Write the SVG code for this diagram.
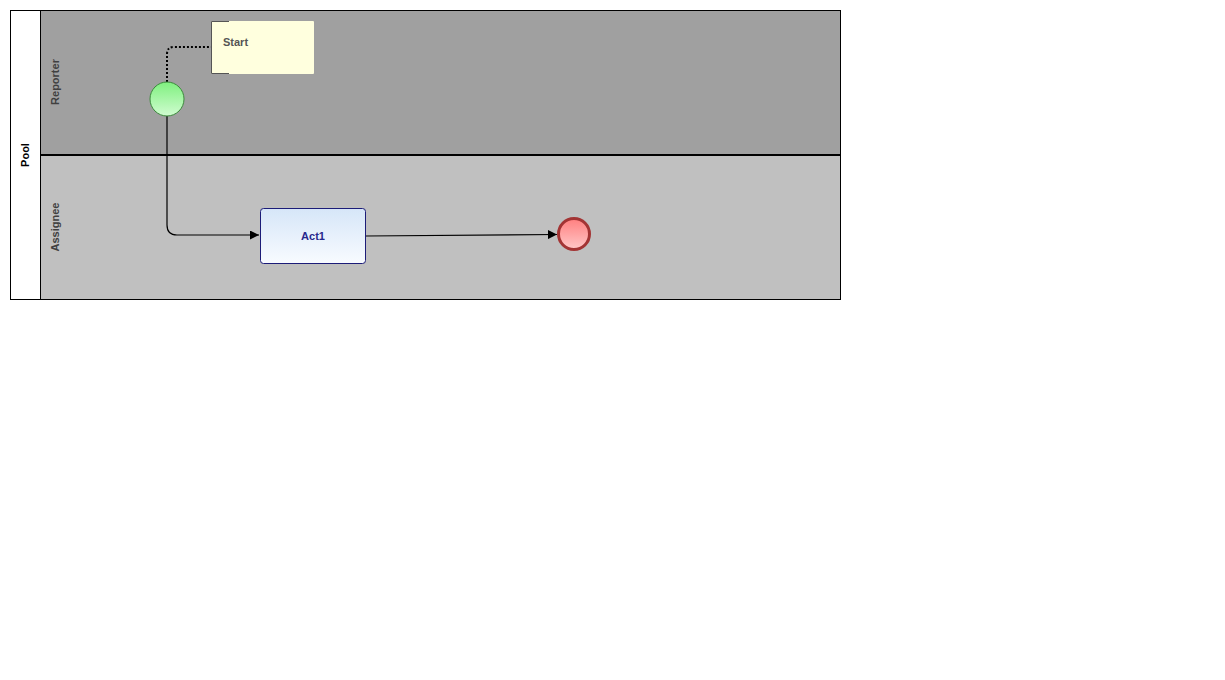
<svg xmlns="http://www.w3.org/2000/svg" width="1225" height="680" viewBox="0 0 1225 680">
<style>
.lbl{font-family:"Liberation Sans",Arial,sans-serif;font-size:11px;font-weight:bold}
.flow{fill:none;stroke:#000;stroke-width:1.2}
</style>
<defs>
<linearGradient id="gStart" x1="0" y1="0" x2="0" y2="1"><stop offset="0" stop-color="#7ff07f"/><stop offset="1" stop-color="#d0fcd0"/></linearGradient>
<linearGradient id="gEnd" x1="0" y1="0" x2="0" y2="1"><stop offset="0" stop-color="#ff7f7f"/><stop offset="1" stop-color="#ffc8c8"/></linearGradient>
<linearGradient id="gTask" x1="0" y1="0" x2="0" y2="1"><stop offset="0" stop-color="#d6e6f8"/><stop offset="1" stop-color="#f8fbff"/></linearGradient>
<marker id="arr" viewBox="0 0 10 10" refX="10" refY="5" markerWidth="9" markerHeight="9" markerUnits="userSpaceOnUse" orient="auto"><path d="M0,0 L10,5 L0,10 z" fill="#000"/></marker>
</defs>
<rect width="1225" height="680" fill="#fff"/>
<g id="pool">
<rect x="10.5" y="10.5" width="830" height="289" fill="#fff" stroke="#000"/>
<text class="lbl" transform="translate(29,155) rotate(-90)" text-anchor="middle" fill="#000">Pool</text>
</g>
<g id="lane-reporter">
<rect x="40.5" y="10.5" width="800" height="145" fill="#a0a0a0" stroke="#000"/>
<text class="lbl" transform="translate(59,82) rotate(-90)" text-anchor="middle" fill="#404040">Reporter</text>
</g>
<g id="lane-assignee">
<rect x="40.5" y="155.5" width="800" height="144" fill="#c0c0c0" stroke="#000"/>
<text class="lbl" transform="translate(59,227) rotate(-90)" text-anchor="middle" fill="#404040">Assignee</text>
<line x1="40" y1="155" x2="841" y2="155" stroke="#000" stroke-width="2"/>
</g>
<g id="connectors">
<path d="M167,82 V54 Q167,47 174,47 H211" fill="none" stroke="#000" stroke-width="2" stroke-dasharray="2,2"/>
<path class="flow" d="M167,116 V225 Q167,235 177,235 H259" marker-end="url(#arr)"/>
<path class="flow" d="M366,236 L557,234.5" marker-end="url(#arr)"/>
</g>
<g id="annotation-start">
<rect x="211" y="21" width="103" height="53" rx="1" fill="#ffffde"/>
<path d="M229,21.5 H211.5 V73.5 H229" fill="none" stroke="#555" stroke-width="1"/>
<text class="lbl" x="223" y="46" fill="#555">Start</text>
</g>
<g id="start-event">
<circle cx="167" cy="99" r="17" fill="url(#gStart)" stroke="#3c8a3c" stroke-width="1"/>
</g>
<g id="task-act1">
<rect x="260.5" y="208.5" width="105" height="55" rx="3" fill="url(#gTask)" stroke="#1c1c78" stroke-width="1"/>
<text class="lbl" x="313" y="240" text-anchor="middle" fill="#28288c">Act1</text>
</g>
<g id="end-event">
<circle cx="574" cy="234" r="15.5" fill="url(#gEnd)" stroke="#a33434" stroke-width="3"/>
</g>
</svg>
